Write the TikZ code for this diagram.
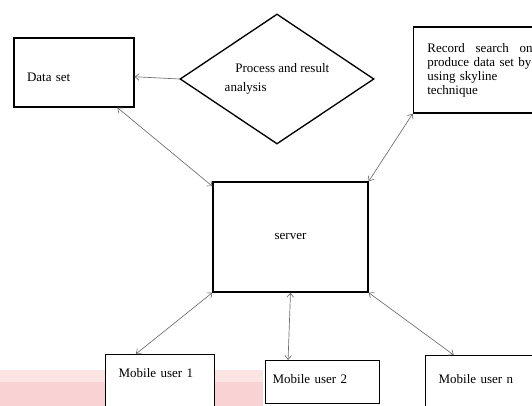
\documentclass[tikz,border=0pt]{standalone}
\usepackage{fontspec}
\setmainfont{Liberation Serif}
\usetikzlibrary{shapes.geometric,arrows.meta,calc}

\definecolor{bandlight}{RGB}{252,228,228}
\definecolor{banddark}{RGB}{249,211,211}
\definecolor{linkgray}{RGB}{110,110,110}

\begin{document}
\begin{tikzpicture}[
        x=0.75pt, y=-0.75pt,
        box/.style={rectangle, draw, line width=1pt, fill=white, align=left, font=\fontsize{9.75}{11.7}\selectfont},
        decision/.style={diamond, draw, line width=1pt, fill=white, aspect=1.5, inner sep=0pt, minimum width=145.5pt, minimum height=97.5pt, align=left, font=\fontsize{9.75}{11.7}\selectfont},
        mobile/.style={box, anchor=north west, inner xsep=9.75pt, inner ysep=4.5pt, text width=62.25pt},
        link/.style={draw=linkgray, line width=0.5pt, >={Straight Barb[length=3pt,width=5pt]}}
    ]
        \useasboundingbox (0,0) rectangle (532,406);
        \clip (0,0) rectangle (532,406);

        % Pink band behind the bottom row
        \fill[bandlight] (0,370) rectangle (263,406);
        \fill[banddark] (0,382) rectangle (263,406);

        % Top row
        \node[box, minimum width=90pt, minimum height=51.75pt, inner xsep=9.75pt, text width=70.5pt, text height=12.8pt, text depth=0pt] (dataset) at (74,72.5) {Data set};
        \node[decision] (process) at (277,79) {\hspace*{8pt}Process and result\\[2.5pt]analysis};
        \node[box, minimum height=64.5pt, inner xsep=10.5pt, text width=79pt, font=\fontsize{9.75}{10.5}\selectfont] (record) at (480,70) {Record\hfill search\hfill on\hspace*{2pt}\\produce data set by\\using skyline\\technique};

        % Server in the middle
        \node[box, minimum width=116.25pt, minimum height=82.5pt, align=center] (server) at (290.5,237) {server};

        % Mobile users
        \node[mobile, text height=12.75pt, text depth=45pt] (mob1) at (105,354) {Mobile user 1};
        \node[mobile, inner xsep=5.25pt, text width=75pt, text height=12.75pt, text depth=10.5pt] (mob2) at (265,360) {Mobile user 2};
        \node[mobile, text height=16.5pt, text depth=45pt] (mobn) at (425,355) {Mobile user n};

        % Connections
        \draw[link, ->] (process.west) -- (dataset.-4);
        \draw[link, <->] (dataset.-39) -- (server.147);
        \draw[link, <->] (record.south west) -- (server.north east);
        \draw[link, <->] (server.south west) -- ($(mob1.north west)!0.28!(mob1.north east)$);
        \draw[link, <->] (server.south) -- ($(mob2.north west)!0.2!(mob2.north east)$);
        \draw[link, <->] (server.south east) -- ($(mobn.north west)!0.26!(mobn.north east)$);

    \end{tikzpicture}
\end{document}
